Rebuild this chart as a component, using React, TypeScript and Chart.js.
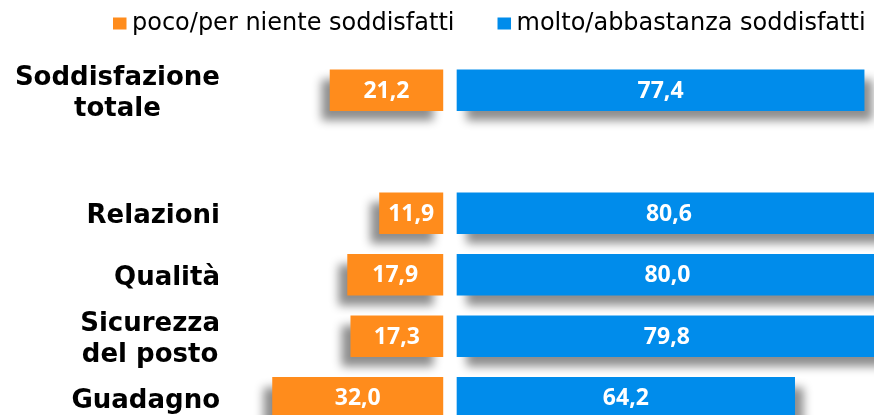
import React, { useEffect, useRef } from "react";
import { Chart, registerables } from "chart.js";

Chart.register(...registerables);

const categories: string[][] = [
  ["Soddisfazione", "totale"],
  [],
  ["Relazioni"],
  ["Qualità"],
  ["Sicurezza", "del posto"],
  ["Guadagno"],
];
const pocoValues: (number | null)[] = [21.2, null, 11.9, 17.9, 17.3, 32.0];
const moltoValues: (number | null)[] = [77.4, null, 80.6, 80.0, 79.8, 64.2];
const seriesNames = ["poco/per niente soddisfatti", "molto/abbastanza soddisfatti"];
const ORANGE = "#FF8C1C";
const BLUE = "#008CEB";

const fmt = (v: number) => v.toFixed(1).replace(".", ",");

const shadowPlugin = {
  id: "barShadow",
  beforeDatasetDraw(chart: any, args: any) {
    const ctx = chart.ctx;
    ctx.save();
    ctx.shadowColor = "rgba(0,0,0,0.45)";
    ctx.shadowBlur = 9;
    ctx.shadowOffsetX = args.index === 0 ? -9 : 9;
    ctx.shadowOffsetY = 10;
  },
  afterDatasetDraw(chart: any) {
    chart.ctx.restore();
  },
};

const valueLabelPlugin = {
  id: "valueLabels",
  afterDatasetsDraw(chart: any) {
    const ctx = chart.ctx;
    ctx.save();
    ctx.font = "bold 23px 'Open Sans'";
    ctx.fillStyle = "#FFFFFF";
    ctx.textAlign = "center";
    ctx.textBaseline = "middle";
    chart.data.datasets.forEach((ds: any, di: number) => {
      const meta = chart.getDatasetMeta(di);
      meta.data.forEach((el: any, j: number) => {
        const item = ds.data[j];
        if (!item) return;
        const raw = Math.abs(item.x[1] - item.x[0]);
        const { x, base, y } = el.getProps(["x", "base", "y"], true);
        ctx.fillText(fmt(raw), (x + base) / 2, y + 1);
      });
    });
    ctx.restore();
  },
};

const categoryLabelPlugin = {
  id: "categoryLabels",
  afterDraw(chart: any) {
    const ctx = chart.ctx;
    const yScale = chart.scales.y;
    const rightEdge = 220;
    const lineH = 30.5;
    ctx.save();
    ctx.font = "bold 26px 'DejaVu Sans'";
    ctx.fillStyle = "#000000";
    ctx.textAlign = "center";
    ctx.textBaseline = "alphabetic";
    categories.forEach((lines, i) => {
      if (!lines.length) return;
      const w = Math.max(...lines.map((l) => ctx.measureText(l).width));
      const cx = rightEdge - w / 2;
      const cy = yScale.getPixelForValue(i);
      const n = lines.length;
      lines.forEach((l, k) => {
        ctx.fillText(l, cx, cy + 10 + (k - (n - 1) / 2) * lineH);
      });
    });
    ctx.restore();
  },
};

const legendPlugin = {
  id: "customLegend",
  afterDraw(chart: any) {
    const ctx = chart.ctx;
    ctx.save();
    ctx.font = "24px 'DejaVu Sans'";
    ctx.textBaseline = "middle";
    ctx.textAlign = "left";
    let x = 113;
    chart.data.datasets.forEach((ds: any) => {
      ctx.fillStyle = ds.backgroundColor;
      ctx.fillRect(x, 17.5, 13.5, 12);
      ctx.fillStyle = "#000000";
      const tx = x + 19;
      ctx.fillText(ds.label, tx, 24);
      x = tx + ctx.measureText(ds.label).width + 43;
    });
    ctx.restore();
  },
};

export default function App() {
  const ref = useRef<HTMLCanvasElement | null>(null);
  useEffect(() => {
    document.body.style.margin = "0";
    if (!ref.current) return;
    const chart = new Chart(ref.current, {
      type: "bar",
      data: {
        datasets: [
          {
            label: seriesNames[0],
            backgroundColor: ORANGE,
            xAxisID: "xL",
            grouped: false,
            barThickness: 41,
            data: pocoValues
              .map((v, i) => (v == null ? null : { y: i, x: [-v, 0] }))
              .filter((d) => d !== null) as any,
          },
          {
            label: seriesNames[1],
            backgroundColor: BLUE,
            xAxisID: "xR",
            grouped: false,
            barThickness: 41,
            data: moltoValues
              .map((v, i) => (v == null ? null : { y: i, x: [0, v] }))
              .filter((d) => d !== null) as any,
          },
        ],
      },
      options: {
        indexAxis: "y",
        responsive: false,
        devicePixelRatio: 1,
        animation: false,
        layout: { padding: { left: 230, top: 59.5, right: 0, bottom: 0 } },
        scales: {
          y: { type: "linear", reverse: true, offset: false, min: -0.5, max: 5.28, display: false },
          xL: { type: "linear", axis: "x", position: "bottom", min: -40, max: 81, display: false },
          xR: { type: "linear", axis: "x", position: "bottom", min: -43.16, max: 79.28, display: false },
        },
        plugins: {
          legend: { display: false },
          tooltip: { enabled: false },
        },
      },
      plugins: [shadowPlugin, valueLabelPlugin, categoryLabelPlugin, legendPlugin],
    });
    return () => chart.destroy();
  }, []);
  return <canvas ref={ref} width={874} height={415} style={{ display: "block" }} />;
}
